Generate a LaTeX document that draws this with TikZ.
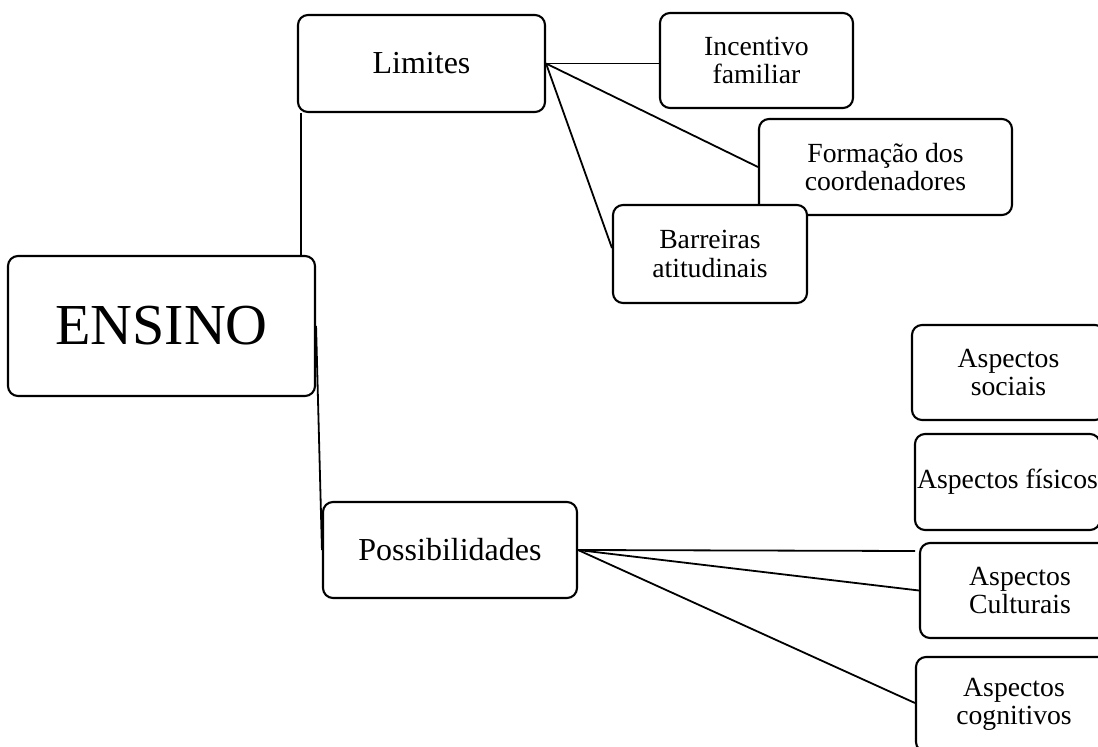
\documentclass[tikz,border=0pt]{standalone}
\usepackage{fontspec}
\setmainfont{Liberation Serif}
\begin{document}
\begin{tikzpicture}[x=1pt,y=-1pt,
  box/.style={draw,line width=2.1pt,rounded corners=10pt,fill=white,inner sep=0pt,align=center},
  small/.style={font=\fontsize{27.7}{28.5}\selectfont},
  mid/.style={font=\fontsize{32}{34}\selectfont},
  link/.style={line width=1.8pt}]
\useasboundingbox (0,0) rectangle (1098,747);
\clip (0,0) rectangle (1098,747);
\node[box,minimum width=307pt,minimum height=140pt,font=\fontsize{58}{60}\selectfont] (ens) at (161.5,326) {ENSINO};
\node[box,mid,minimum width=247pt,minimum height=97pt] (lim) at (421.5,63.5) {Limites};
\node[box,mid,minimum width=254pt,minimum height=96pt] (pos) at (450,550) {Possibilidades};
\node[box,small,minimum width=193pt,minimum height=95pt] (inc) at (756.5,60.5) {Incentivo\\familiar};
\node[box,small,minimum width=253pt,minimum height=96pt] (for) at (885.5,167) {Formação dos\\coordenadores};
\node[box,small,minimum width=194pt,minimum height=98pt] (bar) at (710,254) {Barreiras\\atitudinais};
\node[box,small,minimum width=193pt,minimum height=95pt] (soc) at (1008.5,372.5) {Aspectos\\sociais};
\node[box,small,minimum width=185pt,minimum height=96pt] (fis) at (1007.5,482) {Aspectos físicos};
\node[box,small,minimum width=200pt,minimum height=95pt] (cul) at (1020,590.5) {Aspectos\\Culturais};
\node[box,small,minimum width=196pt,minimum height=95pt] (cog) at (1014,704.5) {Aspectos\\cognitivos};
\coordinate (pend) at (915,551);
\draw[link] ([xshift=4pt]lim.south west) -- ([xshift=4pt]lim.south west |- ens.north);
\draw[link] (lim.east) -- (lim.east -| inc.west);
\draw[link] (lim.east) -- (for.west);
\draw[link] (lim.east) -- ([yshift=6pt]bar.west);
\draw[link] (ens.east) -- (pos.west);
\draw[link] (pos.east) -- (pend);
\draw[link] (pos.east) -- (cul.west);
\draw[link] (pos.east) -- ([yshift=1.5pt]cog.west);
\end{tikzpicture}
\end{document}
